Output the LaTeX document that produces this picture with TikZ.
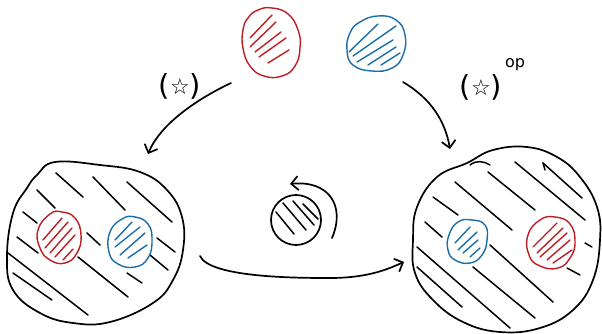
\documentclass[tikz,border=0pt]{standalone}
\usepackage{fontspec}
\newfontfamily\symfont{DejaVu Sans}
\usetikzlibrary{arrows.meta}
\definecolor{hred}{RGB}{190,30,35}
\definecolor{hblue}{RGB}{25,110,170}
\tikzset{
  pen/.style={line width=1.7pt, line cap=round, line join=round},
  redpen/.style={pen, draw=hred, line width=1.4pt},
  bluepen/.style={pen, draw=hblue, line width=1.4pt},
  arr/.style={pen, -{Straight Barb[length=7pt,width=14pt,line width=1.7pt]}},
  lbl/.style={inner sep=0pt, font=\symfont\fontsize{29}{32}\selectfont}
}
\begin{document}
\begin{tikzpicture}[x=1pt,y=-1pt]
\useasboundingbox (0,0) rectangle (602,334);

% top blobs
\draw[redpen] plot[smooth cycle, tension=0.8] coordinates {(248,18) (258,10) (272,8) (288,14) (298,30) (300,48) (295,66) (282,76) (264,76) (250,66) (243,48) (243,30)};
\coordinate (topred) at (271,42);
\foreach \a/\b in {{(250,38)/(272,15)},{(250,47)/(276,22)},{(255,52)/(281,32)},{(259,57)/(286,38)},{(268,63)/(289,50)}}
  {\draw[redpen] \a -- \b;}
\draw[bluepen] plot[smooth cycle, tension=0.8] coordinates {(360,22) (378,16) (396,20) (405,35) (403,55) (392,68) (372,71) (353,65) (347,50) (350,33)};
\coordinate (topblue) at (376,43);
\foreach \a/\b in {{(349,52)/(378,24)},{(353,56)/(396,26)},{(357,62)/(393,40)},{(368,65)/(396,47)},{(381,65)/(400,53)}}
  {\draw[bluepen] \a -- \b;}

% labels
\node[lbl] (lstar) at (180,86) {(\raisebox{1pt}{\fontsize{22}{24}\selectfont ☆})};
\node[lbl] (rstar) at (481,87) {(\raisebox{1pt}{\fontsize{22}{24}\selectfont ☆})};
\node[inner sep=0pt, font=\symfont\fontsize{16}{18}\selectfont] (op) at (515,65) {op};

% left big blob
\draw[pen] plot[smooth cycle, tension=0.7] coordinates {(37,175) (55,162) (100,165) (140,172) (167,190) (182,217) (183,250) (173,280) (153,303) (110,322) (73,323) (40,313) (13,290) (7,257) (13,213) (27,188)};
\coordinate (lbig) at (95,242);
\foreach \a/\b in {{(56,173)/(83,197)},{(93,177)/(125,210)},{(127,182)/(172,222)},{(37,190)/(55,208)},{(23,212)/(37,223)},{(87,233)/(100,245)},{(157,238)/(175,252)},{(17,237)/(38,253)},{(78,257)/(128,297)},{(8,253)/(88,315)},{(13,273)/(52,300)},{(127,273)/(142,283)},{(150,255)/(168,270)}}
  {\draw[pen, line width=1.5pt] \a -- \b;}
% small blobs left
\draw[redpen] plot[smooth cycle, tension=0.8] coordinates {(50,214) (62,212) (75,218) (81,235) (77,253) (65,263) (50,260) (40,248) (38,230)};
\foreach \a/\b in {{(43,240)/(62,218)},{(45,248)/(68,222)},{(50,253)/(72,228)},{(55,257)/(75,235)},{(63,260)/(73,249)}}
  {\draw[redpen] \a -- \b;}
\draw[bluepen] plot[smooth cycle, tension=0.8] coordinates {(122,219) (135,217) (148,224) (152,240) (148,258) (135,267) (118,264) (109,252) (110,232)};
\foreach \a/\b in {{(115,240)/(132,222)},{(115,247)/(140,227)},{(120,255)/(145,233)},{(128,258)/(147,245)}}
  {\draw[bluepen] \a -- \b;}

% right big blob
\draw[pen] plot[smooth cycle, tension=0.7] coordinates {(417,207) (437,177) (467,163) (493,150) (527,147) (557,157) (580,177) (597,207) (600,240) (593,280) (573,310) (540,328) (500,332) (463,322) (433,300) (415,273) (413,240)};
\coordinate (rbig) at (506,240);
\foreach \a/\b in {{(488,172)/(535,210)},{(515,162)/(585,220)},{(543,163)/(582,198)},{(455,182)/(512,230)},{(433,197)/(458,215)},{(425,222)/(442,237)},{(490,245)/(553,302)},{(417,247)/(510,328)},{(417,267)/(462,307)},{(473,267)/(535,318)},{(567,268)/(580,275)},{(585,243)/(592,247)}}
  {\draw[pen, line width=1.5pt] \a -- \b;}
\draw[pen, line width=1.5pt] (543,163) -- (545,170);
\draw[pen, line width=1.5pt] (470,165) .. controls (476,160) and (484,161) .. (490,165);
% small blobs right
\draw[bluepen] plot[smooth cycle, tension=0.8] coordinates {(458,222) (472,220) (485,225) (487,240) (482,255) (470,263) (455,260) (448,250) (449,235)};
\foreach \a/\b in {{(455,243)/(470,227)},{(458,250)/(477,232)},{(463,253)/(478,240)},{(470,257)/(480,248)}}
  {\draw[bluepen] \a -- \b;}
\draw[redpen] plot[smooth cycle, tension=0.8] coordinates {(540,220) (555,217) (570,224) (575,242) (570,258) (558,268) (540,266) (529,255) (528,235)};
\foreach \a/\b in {{(533,247)/(557,223)},{(537,253)/(563,228)},{(540,257)/(567,233)},{(547,260)/(570,240)},{(553,263)/(572,250)}}
  {\draw[redpen] \a -- \b;}

% middle small circle with circular arrow
\draw[pen] (296,220) circle[radius=25];
\coordinate (mid) at (296,220);
\foreach \a/\b in {{(276,212)/(294,234)},{(283,203)/(306,230)},{(293,201)/(314,225)},{(303,204)/(318,219)}}
  {\draw[pen, line width=1.5pt] \a -- \b;}
\coordinate (cas) at (332,238);
\coordinate (cae) at (290,184);
\draw[arr] (cas) .. controls (346,205) and (328,180) .. (cae);

% arrows
\coordinate (a1s) at (231,83);
\coordinate (a1e) at (148,154);
\draw[arr] (a1s) .. controls (195,100) and (160,125) .. (a1e);
\coordinate (a2s) at (403,82);
\coordinate (a2e) at (450,149);
\draw[arr] (a2s) .. controls (430,98) and (445,120) .. (a2e);
\coordinate (a3s) at (200,256);
\coordinate (a3e) at (404,262);
\draw[arr] (a3s) .. controls (210,278) and (300,278) .. (330,278) .. controls (370,278) and (390,268) .. (a3e);
\end{tikzpicture}
\end{document}
